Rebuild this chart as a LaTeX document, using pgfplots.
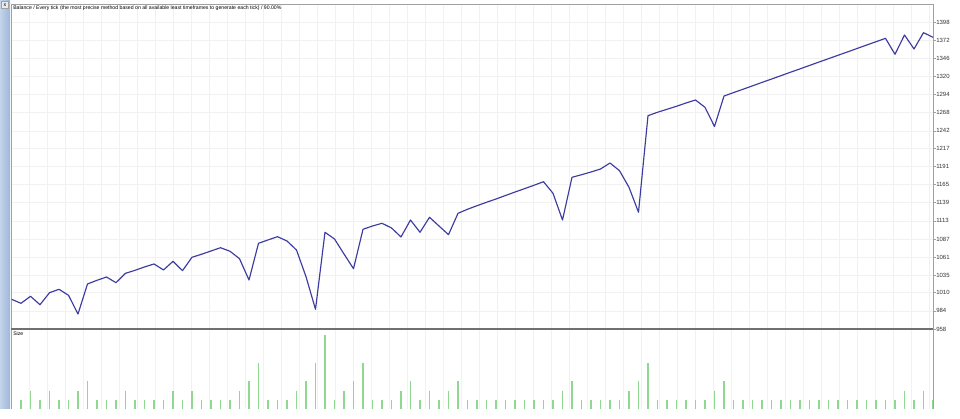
\documentclass[border=0pt]{standalone}
\usepackage{fontspec}
\setmainfont{Liberation Sans}
\usepackage{pgfplots}
\pgfplotsset{compat=1.18}
\usepackage{pgfplotstable}
\newlength\px
\setlength\px{0.75pt}
\definecolor{bal}{HTML}{3C3CA0}
\definecolor{sizec}{HTML}{90D890}
\definecolor{gridc}{HTML}{F1F1F1}
\definecolor{framec}{HTML}{A0A0A0}
\definecolor{sepc}{HTML}{707070}
\definecolor{stripA}{HTML}{C4D4EA}
\definecolor{stripB}{HTML}{9CB6DA}

\pgfplotstableread{
i v
0 1000.6
1 994.8
2 1004.9
3 992.8
4 1010.0
5 1014.9
6 1006.3
7 979.5
8 1022.5
9 1027.8
10 1032.5
11 1024.4
12 1037.8
13 1042.1
14 1046.9
15 1051.2
16 1042.6
17 1055.0
18 1041.6
19 1060.8
20 1065.1
21 1069.8
22 1074.5
23 1069.4
24 1058.8
25 1028.2
26 1080.8
27 1085.6
28 1090.3
29 1084.1
30 1071.2
31 1033.0
32 986.2
33 1096.6
34 1087.0
35 1065.5
36 1044.4
37 1100.9
38 1105.6
39 1109.5
40 1102.8
41 1089.9
42 1114.2
43 1096.6
44 1118.1
45 1105.6
46 1093.2
47 1123.8
48 1129.6
49 1134.7
50 1139.6
51 1144.3
52 1149.3
53 1154.3
54 1159.1
55 1164.0
56 1169.1
57 1152.5
58 1114.2
59 1175.4
60 1179.1
61 1183.0
62 1187.3
63 1195.9
64 1184.9
65 1161.1
66 1125.3
67 1263.7
68 1268.6
69 1272.9
70 1277.2
71 1281.9
72 1286.2
73 1275.7
74 1248.2
75 1291.9
76 1296.8
77 1301.6
78 1306.5
79 1311.4
80 1316.2
81 1321.1
82 1326.0
83 1330.8
84 1335.7
85 1340.6
86 1345.4
87 1350.3
88 1355.1
89 1360.0
90 1364.9
91 1369.7
92 1374.6
93 1351.7
94 1379.4
95 1359.3
96 1382.7
97 1376.1
}\balance

\pgfplotstableread{
i s
1 1
2 2
3 1
4 2
5 1
6 1
7 2
8 3
9 1
10 1
11 1
12 2
13 1
14 1
15 1
16 1
17 2
18 1
19 2
20 1
21 1
22 1
23 1
24 2
25 3
26 5
27 1
28 1
29 1
30 2
31 3
32 5
33 8
34 1
35 2
36 3
37 5
38 1
39 1
40 1
41 2
42 3
43 1
44 2
45 1
46 2
47 3
48 1
49 1
50 1
51 1
52 1
53 1
54 1
55 1
56 1
57 1
58 2
59 3
60 1
61 1
62 1
63 1
64 1
65 2
66 3
67 5
68 1
69 1
70 1
71 1
72 1
73 1
74 2
75 3
76 1
77 1
78 1
79 1
80 1
81 1
82 1
83 1
84 1
85 1
86 1
87 1
88 1
89 1
90 1
91 1
92 1
93 1
94 2
95 1
96 2
97 1
}\sizes

\begin{document}
\begin{tikzpicture}
\fill[white] (0,0) rectangle (960\px,409\px);
\shade[left color=stripA, right color=stripB] (0,0) rectangle (10\px,409\px);
\fill[white!92!black] (1.5\px,400.5\px) rectangle (8.5\px,407.5\px);
\draw[framec, line width=0.5\px] (1.5\px,400.5\px) rectangle (8.5\px,407.5\px);
\node[font=\fontsize{4}{4}\selectfont, inner sep=0pt] at (5\px,404\px) {x};

\begin{axis}[
  at={(11.5\px,80\px)}, anchor=south west, scale only axis,
  width=921.5\px, height=325\px,
  xmin=0, xmax=97, ymin=958, ymax=1423.8,
  xtick distance=1.895, xticklabels={}, major x tick style={draw=none},
  ytick={958,984,1010,1035,1061,1087,1113,1139,1165,1191,1217,1242,1268,1294,1320,1346,1372,1398},
  yticklabels={958,984,1010,1035,1061,1087,1113,1139,1165,1191,1217,1242,1268,1294,1320,1346,1372,1398},
  ytick pos=right, yticklabel pos=right, tick align=outside,
  major tick length=2.5\px,
  y tick style={framec, line width=0.6\px},
  y tick label style={font=\fontsize{4.5}{5}\selectfont, text=black!80, anchor=west, inner sep=0pt, xshift=0.5\px},
  grid=major, grid style={gridc, line width=0.6\px},
  axis line style={framec, line width=0.8\px},
]
\addplot[bal, line width=1.15\px, line join=round] table[x=i, y=v] {\balance};
\end{axis}

\begin{axis}[
  at={(11.5\px,0\px)}, anchor=south west, scale only axis,
  width=921.5\px, height=79\px,
  xmin=0, xmax=97, ymin=0, ymax=8.55,
  xtick distance=1.895, xticklabels={}, major x tick style={draw=none},
  ytick=\empty,
  xmajorgrids, grid style={gridc, line width=0.6\px},
  separate axis lines,
  x axis line style={draw=none},
  y axis line style={framec, line width=0.8\px},
]
\addplot[ycomb, sizec, line width=1.1\px] table[x=i, y=s] {\sizes};
\end{axis}

\draw[sepc, line width=1.6\px] (11\px,80\px) -- (933\px,80\px);
\node[anchor=west, font=\fontsize{3.87}{4}\selectfont, inner sep=0pt] at (13\px,401\px) {Balance / Every tick (the most precise method based on all available least timeframes to generate each tick) / 90.00\%};
\node[anchor=west, font=\fontsize{3.87}{4}\selectfont, inner sep=0pt] at (13\px,75\px) {Size};
\end{tikzpicture}
\end{document}
